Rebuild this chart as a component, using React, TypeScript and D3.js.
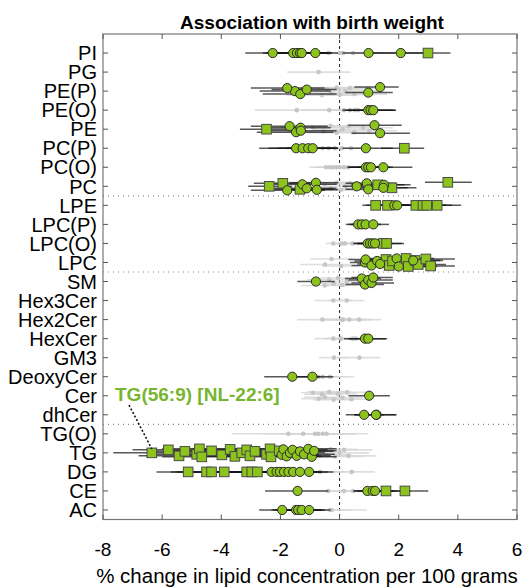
import React from 'react'
import * as d3 from 'd3'

const classes = [
  'PI', 'PG', 'PE(P)', 'PE(O)', 'PE', 'PC(P)', 'PC(O)', 'PC',
  'LPE', 'LPC(P)', 'LPC(O)', 'LPC',
  'SM', 'Hex3Cer', 'Hex2Cer', 'HexCer', 'GM3', 'DeoxyCer', 'Cer', 'dhCer',
  'TG(O)', 'TG', 'DG', 'CE', 'AC',
]

// groups are separated after these classes
const groupEnds = ['PC', 'LPC', 'dhCer']

const xTicks = [-8, -6, -4, -2, 0, 2, 4, 6]

type Row = [string, number, number, number] // class, estimate, lower, upper

// significant, strongest (squares)
const sigSquares: Row[] = [
  ['PI', 2.99, 2.2, 3.75],
  ['PE', -2.47, -3.37, -1.5],
  ['PC(P)', 2.19, 1.4, 2.86],
  ['PC', -2.38, -3.09, -1.6], ['PC', -1.92, -2.9, -1.0], ['PC', -1.34, -2.5, -0.2],
  ['PC', 1.29, 0.4, 2.2], ['PC', 1.77, 0.9, 2.6], ['PC', 3.66, 2.89, 4.47],
  ['LPE', 1.22, 0.77, 1.9], ['LPE', 1.62, 0.9, 2.3], ['LPE', 2.58, 1.8, 3.4],
  ['LPE', 2.82, 2.0, 3.6], ['LPE', 2.95, 2.1, 3.8], ['LPE', 3.3, 2.5, 4.11],
  ['LPC(O)', 1.48, 0.9, 2.1], ['LPC(O)', 1.59, 1.0, 2.18],
  ['LPC', 1.48, 0.7, 2.3], ['LPC', 1.57, 0.8, 2.4], ['LPC', 1.68, 0.9, 2.5],
  ['LPC', 1.79, 1.0, 2.6], ['LPC', 2.1, 1.2, 3.0], ['LPC', 2.25, 1.3, 3.2],
  ['LPC', 2.32, 1.4, 3.3], ['LPC', 2.55, 1.6, 3.5], ['LPC', 2.66, 1.7, 3.6],
  ['LPC', 2.92, 2.0, 3.9], ['LPC', 3.08, 2.2, 3.9],
  ['TG', -6.35, -7.65, -5.0], ['TG', -5.79, -7.0, -4.5], ['TG', -5.43, -6.8, -4.1],
  ['TG', -5.23, -6.5, -3.9], ['TG', -4.83, -6.2, -3.4], ['TG', -4.74, -6.0, -3.4],
  ['TG', -4.66, -6.0, -3.3], ['TG', -4.33, -5.7, -2.9], ['TG', -3.98, -5.3, -2.6],
  ['TG', -3.7, -5.0, -2.4], ['TG', -3.54, -4.9, -2.1], ['TG', -3.31, -4.7, -1.9],
  ['TG', -3.14, -4.5, -1.7], ['TG', -3.03, -4.4, -1.6], ['TG', -2.86, -4.2, -1.5],
  ['TG', -2.47, -3.8, -1.1], ['TG', -2.35, -3.6, -1.0], ['TG', -2.32, -3.6, -1.0],
  ['TG', -2.04, -3.3, -0.8],
  ['DG', -5.12, -6.19, -4.0], ['DG', -4.5, -5.7, -3.3], ['DG', -4.33, -5.5, -3.1],
  ['DG', -3.9, -5.1, -2.7], ['DG', -3.14, -4.3, -2.0], ['DG', -2.97, -4.1, -1.8],
  ['DG', -2.78, -3.9, -1.6],
  ['CE', 1.57, 0.8, 2.4], ['CE', 2.21, 1.4, 3.0],
]

// significant (circles)
const sigCircles: Row[] = [
  ['PI', -2.26, -3.19, -1.3], ['PI', -1.57, -2.6, -0.5], ['PI', -1.44, -2.5, -0.4],
  ['PI', -1.34, -2.4, -0.3], ['PI', -1.28, -2.3, -0.25], ['PI', -0.82, -1.6, -0.05],
  ['PI', 0.98, 0.1, 1.9], ['PI', 2.07, 1.0, 3.1],
  ['PE(P)', -1.51, -2.7, -0.3], ['PE(P)', -1.77, -3.0, -0.5], ['PE(P)', -1.33, -2.6, -0.1],
  ['PE(P)', -1.11, -2.3, -0.1], ['PE(P)', 0.97, 0.2, 1.8], ['PE(P)', 1.37, 0.5, 2.0],
  ['PE(O)', 0.97, 0.1, 1.8], ['PE(O)', 1.05, 0.2, 1.9], ['PE(O)', 1.14, 0.3, 1.9],
  ['PE', -1.69, -3.0, -0.4], ['PE', -1.47, -2.8, -0.2], ['PE', -1.32, -2.5, -0.3],
  ['PE', -1.31, -2.6, -0.1], ['PE', 1.18, 0.3, 2.1], ['PE', 1.37, 0.4, 2.38],
  ['PC(P)', -1.47, -2.72, -0.2], ['PC(P)', -1.25, -2.4, -0.1], ['PC(P)', -1.06, -2.1, -0.05],
  ['PC(P)', -0.91, -1.8, -0.05], ['PC(P)', 0.89, 0.1, 1.8],
  ['PC(O)', 0.89, 0.26, 1.6], ['PC(O)', 0.97, 0.3, 1.7], ['PC(O)', 1.06, 0.35, 1.8],
  ['PC(O)', 1.48, 0.6, 2.46],
  ['PC', -1.77, -3.0, -0.5], ['PC', -1.26, -2.5, -0.1], ['PC', -1.11, -2.2, -0.1],
  ['PC', -0.8, -1.7, -0.05], ['PC', -0.77, -1.6, -0.05], ['PC', 0.58, 0.1, 1.4],
  ['PC', 0.92, 0.2, 1.9], ['PC', 0.97, 0.2, 1.8], ['PC', 1.5, 0.6, 2.4], ['PC', 1.48, 0.5, 2.3],
  ['LPE', 1.85, 1.1, 2.6], ['LPE', 1.95, 1.2, 2.7],
  ['LPC(P)', 0.63, 0.21, 1.1], ['LPC(P)', 0.75, 0.3, 1.2], ['LPC(P)', 0.88, 0.4, 1.4],
  ['LPC(P)', 1.14, 0.6, 1.67],
  ['LPC(O)', 0.95, 0.46, 1.5], ['LPC(O)', 1.03, 0.5, 1.6], ['LPC(O)', 1.12, 0.6, 1.7],
  ['LPC(O)', 1.2, 0.6, 1.8],
  ['LPC', 0.86, 0.35, 1.5], ['LPC', 0.88, 0.3, 1.6], ['LPC', 1.08, 0.4, 1.8],
  ['LPC', 1.27, 0.5, 2.0], ['LPC', 1.37, 0.6, 2.1], ['LPC', 1.93, 1.0, 2.8],
  ['LPC', 2.0, 1.1, 2.9], ['LPC', 2.49, 1.5, 3.4],
  ['SM', -0.8, -1.43, -0.16], ['SM', 0.75, 0.18, 1.4], ['SM', 0.86, 0.2, 1.5],
  ['SM', 0.97, 0.3, 1.8], ['SM', 1.08, 0.4, 1.84], ['SM', 1.14, 0.4, 1.8],
  ['HexCer', 0.86, 0.15, 1.55], ['HexCer', 0.97, 0.3, 1.61],
  ['DeoxyCer', -1.6, -2.55, -0.65], ['DeoxyCer', -0.92, -1.6, -0.21],
  ['Cer', 1.0, 0.3, 1.7],
  ['dhCer', 0.83, 0.21, 1.5], ['dhCer', 1.25, 0.5, 1.93], ['dhCer', 1.23, 0.5, 1.9],
  ['TG', -1.96, -3.2, -0.7], ['TG', -1.9, -3.1, -0.7], ['TG', -1.79, -3.0, -0.6],
  ['TG', -1.68, -2.9, -0.5], ['TG', -1.59, -2.8, -0.4], ['TG', -1.45, -2.6, -0.3],
  ['TG', -1.34, -2.5, -0.2], ['TG', -1.2, -2.3, -0.16], ['TG', -1.06, -2.1, -0.1],
  ['TG', -0.94, -1.9, -0.1], ['TG', -0.86, -1.7, -0.1],
  ['DG', -2.3, -3.4, -1.2], ['DG', -2.13, -3.2, -1.0], ['DG', -2.02, -3.1, -0.9],
  ['DG', -1.88, -2.9, -0.8], ['DG', -1.73, -2.7, -0.7], ['DG', -1.57, -2.5, -0.6],
  ['DG', -1.34, -2.2, -0.4], ['DG', -1.03, -1.9, -0.21],
  ['CE', -1.42, -2.52, -0.38], ['CE', 0.94, 0.46, 1.6], ['CE', 1.12, 0.5, 1.8],
  ['CE', 1.2, 0.6, 1.9],
  ['AC', -1.94, -2.72, -1.1], ['AC', -1.47, -2.3, -0.6], ['AC', -1.4, -2.2, -0.6],
  ['AC', -1.28, -2.1, -0.5], ['AC', -1.03, -1.8, -0.3],
]

// not significant (grey)
const nonSig: Row[] = [
  ['PI', -0.37, -1.5, 0.8], ['PI', 0.01, -1.0, 1.0], ['PI', 0.12, -0.9, 1.1], ['PI', 0.46, -0.6, 1.5],
  ['PG', -0.71, -1.77, 0.37],
  ['PE(P)', -0.6, -1.8, 0.6], ['PE(P)', -0.42, -1.6, 0.8], ['PE(P)', -0.3, -1.4, 0.9],
  ['PE(P)', -0.1, -1.3, 1.1], ['PE(P)', 0.01, -1.1, 1.2], ['PE(P)', 0.2, -0.9, 1.3],
  ['PE(P)', 0.35, -0.8, 1.5], ['PE(P)', 0.5, -0.5, 1.6],
  ['PE(O)', -1.45, -2.86, 0.0], ['PE(O)', -0.35, -1.3, 0.6], ['PE(O)', 0.15, -0.6, 0.9],
  ['PE(O)', 0.35, -0.3, 1.0], ['PE(O)', 0.52, -0.1, 1.2], ['PE(O)', 0.63, -0.05, 1.3],
  ['PE', -0.9, -2.0, 0.2], ['PE', -0.55, -1.6, 0.5], ['PE', -0.3, -1.3, 0.8],
  ['PE', -0.1, -1.1, 0.9], ['PE', 0.1, -0.9, 1.1], ['PE', 0.3, -0.7, 1.3],
  ['PE', 0.5, -0.5, 1.5], ['PE', 0.8, -0.2, 1.8], ['PE', 1.0, -0.1, 1.94],
  ['PC(P)', -0.57, -1.5, 0.4], ['PC(P)', -0.37, -1.2, 0.5], ['PC(P)', -0.16, -1.0, 0.7],
  ['PC(P)', 0.07, -0.8, 0.9], ['PC(P)', 0.39, -0.5, 1.3],
  ['PC(O)', -0.46, -1.03, 0.1], ['PC(O)', -0.32, -0.9, 0.3], ['PC(O)', -0.21, -0.8, 0.4],
  ['PC(O)', -0.1, -0.7, 0.5], ['PC(O)', 0.01, -0.6, 0.6], ['PC(O)', 0.15, -0.5, 0.8],
  ['PC(O)', 0.29, -0.4, 0.9],
  ['PC', -0.8, -2.2, 0.5], ['PC', -0.65, -1.8, 0.5], ['PC', -0.5, -1.6, 0.6],
  ['PC', -0.3, -1.2, 0.7], ['PC', -0.1, -1.0, 0.8], ['PC', 0.05, -0.9, 1.0],
  ['PC', 0.2, -0.7, 1.1], ['PC', 0.35, -0.5, 1.2],
  ['LPC(O)', -0.21, -0.46, 0.05], ['LPC(O)', 0.07, -0.3, 0.4], ['LPC(O)', 0.18, -0.1, 0.45],
  ['LPC(O)', 0.44, -0.1, 1.0],
  ['LPC', -0.49, -1.34, 0.4], ['LPC', -0.27, -1.0, 0.5], ['LPC', 0.05, -0.6, 0.7],
  ['SM', -0.5, -1.3, 0.3], ['SM', -0.35, -1.1, 0.4], ['SM', -0.2, -0.9, 0.5],
  ['SM', -0.05, -0.7, 0.6], ['SM', 0.1, -0.5, 0.7], ['SM', 0.25, -0.4, 0.8],
  ['Hex3Cer', -0.21, -0.85, 0.45], ['Hex3Cer', 0.24, -0.35, 0.84],
  ['Hex2Cer', -0.58, -1.43, 0.3], ['Hex2Cer', 0.07, -0.7, 0.85], ['Hex2Cer', 0.12, -0.6, 0.9],
  ['Hex2Cer', 0.33, -0.5, 1.1], ['Hex2Cer', 0.66, -0.1, 1.42],
  ['HexCer', -0.21, -0.85, 0.45], ['HexCer', 0.05, -0.5, 0.6], ['HexCer', 0.44, -0.1, 1.0],
  ['HexCer', 0.55, -0.05, 1.1],
  ['GM3', -0.19, -0.69, 0.3], ['GM3', 0.67, -0.05, 1.37],
  ['DeoxyCer', -0.72, -1.5, 0.05], ['DeoxyCer', -0.57, -1.3, 0.2], ['DeoxyCer', -0.32, -1.1, 0.49],
  ['Cer', -0.9, -1.3, -0.1], ['Cer', -0.7, -1.3, 0.0], ['Cer', -0.6, -1.2, 0.1],
  ['Cer', -0.5, -1.2, 0.2], ['Cer', -0.35, -1.1, 0.4], ['Cer', -0.2, -0.9, 0.5],
  ['Cer', -0.05, -0.8, 0.6], ['Cer', 0.1, -0.6, 0.8], ['Cer', 0.25, -0.4, 0.9],
  ['Cer', 0.4, -0.2, 1.0],
  ['TG(O)', -1.73, -3.65, 0.2], ['TG(O)', -1.23, -2.6, 0.1], ['TG(O)', -0.83, -2.0, 0.3],
  ['TG(O)', -0.72, -1.6, 0.5], ['TG(O)', -0.57, -1.4, 0.6], ['TG(O)', -0.44, -1.3, 0.97],
  ['TG', -0.45, -1.3, 0.4], ['TG', -0.3, -1.1, 0.6], ['TG', -0.15, -0.9, 0.8],
  ['TG', 0.0, -0.7, 1.0], ['TG', 0.15, -0.6, 1.1], ['TG', 0.3, -0.4, 1.25],
  ['DG', -0.66, -1.5, 0.2], ['DG', 0.41, -0.4, 1.2],
  ['CE', -0.38, -1.2, 0.5], ['CE', 0.15, -0.5, 0.8], ['CE', 0.46, -0.1, 1.0],
  ['AC', -0.32, -1.0, 0.4], ['AC', -0.27, -0.9, 0.92],
]

const highlight = { label: 'TG(56:9) [NL-22:6]', cls: 'TG', est: -6.35 }

// rows where overlapping estimates are spread out a little vertically
const spreadRows = new Set(['PE(P)', 'PE', 'PC', 'LPC', 'SM', 'Cer', 'TG'])
const spread = [0, -3, 3, -1.5, 1.5, -4, 4, -2, 2, -3.5, 3.5]

const W = 529
const H = 587
const font = '"Liberation Sans", Arial, sans-serif'
const green = '#8cc31c'

export default function App() {
  const x = d3.scaleLinear().domain([-8, 6]).range([103, 517])
  const y = d3.scaleLinear().domain([-1, classes.length - 0.5]).range([34, 519.5])
  const [x0, x1] = x.range()
  const [y0, y1] = y.range()

  // vertical offsets per point, counted within each class
  const counter: Record<string, number> = {}
  const place = (rows: Row[]) =>
    rows.map(([c, est, lo, hi]) => {
      const k = (counter[c] = (counter[c] ?? -1) + 1)
      const dy = spreadRows.has(c) ? spread[k % spread.length] : 0
      return { c, est, lo, hi, cy: y(classes.indexOf(c)) + dy }
    })
  const sq = place(sigSquares)
  const ci = place(sigCircles)
  const ns = place(nonSig)
  const sig = [...sq, ...ci]

  const hl = sq.find(d => d.c === highlight.cls && d.est === highlight.est)!

  return (
    <svg width={W} height={H} style={{ position: 'absolute', left: 0, top: 0, background: '#fff' }}
      fontFamily={font}>
      <text x={(x0 + x1) / 2 + 2} y={29} textAnchor="middle" fontSize={19} fontWeight="bold">
        Association with birth weight
      </text>

      {/* zero line */}
      <line x1={x(0)} x2={x(0)} y1={y0} y2={y1} stroke="#222" strokeDasharray="3,3" strokeWidth={1} />

      {/* group separators */}
      {groupEnds.map(g => {
        const yy = y(classes.indexOf(g) + 0.5)
        return <line key={g} x1={x0} x2={x1} y1={yy} y2={yy} stroke="#888" strokeDasharray="1,4" strokeWidth={1.2} />
      })}

      {/* non-significant */}
      <g>
        {ns.map((d, i) => (
          <line key={i} x1={x(d.lo)} x2={x(d.hi)} y1={d.cy} y2={d.cy} stroke="#d6d6d6" strokeOpacity={0.8} strokeWidth={1.6} />
        ))}
        {ns.map((d, i) => (
          <circle key={i} cx={x(d.est)} cy={d.cy} r={2.3} fill="#c6c6c6" />
        ))}
      </g>

      {/* significant */}
      <g>
        {sig.map((d, i) => (
          <line key={i} x1={x(d.lo)} x2={x(d.hi)} y1={d.cy} y2={d.cy} stroke="#111" strokeOpacity={0.7} strokeWidth={1.5} />
        ))}
        {sq.map((d, i) => (
          <rect key={i} x={x(d.est) - 4.8} y={d.cy - 4.8} width={9.6} height={9.6} fill={green} stroke="#4a4a4a" strokeWidth={1} />
        ))}
        {ci.map((d, i) => (
          <circle key={i} cx={x(d.est)} cy={d.cy} r={4.6} fill={green} stroke="#2a2a2a" strokeWidth={1} />
        ))}
      </g>

      {/* frame and ticks */}
      <rect x={x0} y={y0} width={x1 - x0} height={y1 - y0} fill="none" stroke="#777" strokeWidth={1.2} />
      {xTicks.map(t => (
        <g key={t}>
          <line x1={x(t)} x2={x(t)} y1={y0} y2={y0 + 5} stroke="#555" />
          <line x1={x(t)} x2={x(t)} y1={y1} y2={y1 - 5} stroke="#555" />
          <text x={x(t)} y={556} textAnchor="middle" fontSize={19}>{t}</text>
        </g>
      ))}
      {classes.map((c, i) => (
        <g key={c}>
          <line x1={x0} x2={x0 + 5} y1={y(i)} y2={y(i)} stroke="#555" />
          <line x1={x1} x2={x1 - 5} y1={y(i)} y2={y(i)} stroke="#555" />
          <text x={97} y={y(i)} dy="0.36em" textAnchor="end" fontSize={20}>{c}</text>
        </g>
      ))}
      <text x={(x0 + x1) / 2 - 3} y={583} textAnchor="middle" fontSize={20.5}>
        % change in lipid concentration per 100 grams
      </text>

      {/* annotation */}
      <text x={115} y={401} fontSize={19} fontWeight="bold" fill="#77b530">{highlight.label}</text>
      <line x1={129} y1={405} x2={x(hl.est)} y2={hl.cy - 4} stroke="#111" strokeWidth={1.6} strokeDasharray="2,2" />
    </svg>
  )
}
